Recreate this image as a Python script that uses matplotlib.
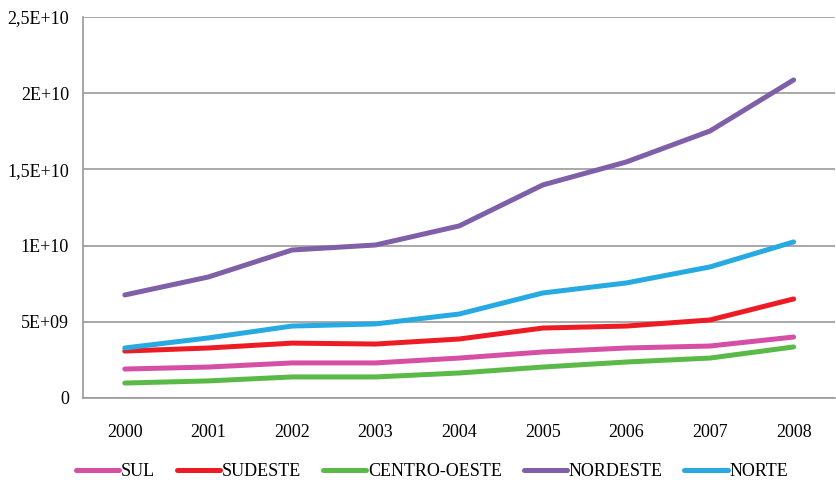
import numpy as np
import matplotlib.pyplot as plt
from matplotlib.ticker import FixedLocator

years = ["2000", "2001", "2002", "2003", "2004", "2005", "2006", "2007", "2008"]

sul = [1.90e9, 2.03e9, 2.30e9, 2.30e9, 2.62e9, 3.02e9, 3.28e9, 3.41e9, 4.00e9]
sudeste = [3.08e9, 3.28e9, 3.60e9, 3.54e9, 3.87e9, 4.59e9, 4.72e9, 5.12e9, 6.50e9]
centro_oeste = [0.98e9, 1.12e9, 1.38e9, 1.38e9, 1.64e9, 2.03e9, 2.36e9, 2.62e9, 3.35e9]
nordeste = [6.76e9, 7.94e9, 9.71e9, 10.04e9, 11.29e9, 13.98e9, 15.49e9, 17.52e9, 20.87e9]
norte = [3.28e9, 3.94e9, 4.72e9, 4.86e9, 5.51e9, 6.89e9, 7.55e9, 8.60e9, 10.24e9]

series = [
    ("SUL", sul, "#d54fa5"),
    ("SUDESTE", sudeste, "#ed1c24"),
    ("CENTRO-OESTE", centro_oeste, "#5bb947"),
    ("NORDESTE", nordeste, "#7f5fa8"),
    ("NORTE", norte, "#27aae1"),
]

y_ticks = [0, 5e9, 1e10, 1.5e10, 2e10, 2.5e10]
y_labels = ["0", "5E+09", "1E+10", "1,5E+10", "2E+10", "2,5E+10"]

plt.rcParams["font.family"] = ["Liberation Serif", "DejaVu Serif"]

fig = plt.figure(figsize=(8.36, 4.9), dpi=100)
ax = fig.add_axes([0.0993, 0.1878, 0.9, 0.7775])

x = np.arange(len(years))
for name, values, color in series:
    ax.plot(x, values, color=color, linewidth=3.6, label=name,
            solid_capstyle="round", solid_joinstyle="round")

ax.set_xlim(-0.5, len(years) - 0.5)
ax.set_ylim(0, 2.5e10)
ax.set_xticks(x)
ax.set_xticklabels(years, fontsize=13)
ax.yaxis.set_major_locator(FixedLocator(y_ticks))
ax.set_yticklabels(y_labels, fontsize=13)
ax.tick_params(axis="both", length=0)
ax.tick_params(axis="x", pad=19)
ax.tick_params(axis="y", pad=10)

ax.grid(axis="y", color="#9a9a9a", linewidth=1.2)
ax.set_axisbelow(True)
for side in ["top", "right"]:
    ax.spines[side].set_visible(False)
ax.spines["left"].set_color("#9a9a9a")
ax.spines["bottom"].set_color("#9a9a9a")
ax.spines["left"].set_linewidth(1.2)
ax.spines["bottom"].set_linewidth(1.2)

ax.legend(loc="center", bbox_to_anchor=(0.464, -0.194), ncol=5,
          frameon=False, fontsize=13, handlelength=2.4, handletextpad=0.1,
          columnspacing=1.2, borderaxespad=0, borderpad=0)

fig.savefig("out.png", dpi=100)
